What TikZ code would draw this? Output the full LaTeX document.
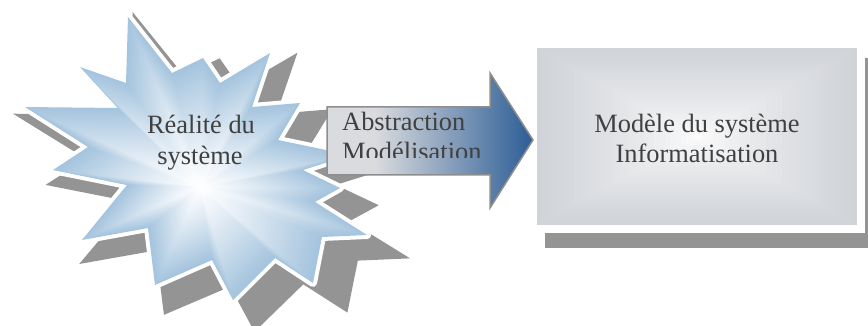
\documentclass[tikz,border=0pt]{standalone}
\usepackage{fontspec}
\setmainfont{Liberation Serif}
\definecolor{shadowgray}{HTML}{949494}
\definecolor{starblue}{HTML}{A5C4DE}
\definecolor{boxedge}{HTML}{D0D3D8}
\definecolor{arrowlight}{HTML}{DADBDE}
\definecolor{arrowdark}{HTML}{2B5C95}
\definecolor{arrowline}{HTML}{8E8E8E}
\definecolor{labelgray}{HTML}{404040}
% outline of the burst (explosion) shape
\def\burstpath{(128,17) -- (172,73) -- (203,58) -- (220,83) -- (270,53) -- (252,107)
  -- (300,103) -- (278,140) -- (350,155) -- (303,170) -- (340,188) -- (315,202)
  -- (367,235) -- (322,237) -- (313,283) -- (275,258) -- (233,300) -- (212,260)
  -- (155,285) -- (148,228) -- (82,240) -- (127,185) -- (53,170) -- (88,147)
  -- (25,107) -- (118,108) -- (80,67) -- (126,83) -- cycle}
\tikzset{
  label text/.style={text=labelgray, font=\fontsize{26.4}{30}\selectfont, inner sep=0pt},
}
\begin{document}
\begin{tikzpicture}[x=1pt,y=-1pt]
\useasboundingbox (0,0) rectangle (868,326);

% --- burst: enlarged shadow, white rim, path gradient ---
\begin{scope}[shift={(-16,-7.2)}, xscale=1.161, yscale=1.13]
  \fill[shadowgray] \burstpath;
\end{scope}
\draw[white, fill=white, line width=8pt, line join=round] \burstpath;
\foreach \i in {0,...,49}{
  \pgfmathsetmacro\s{1-\i/50}
  \pgfmathsetmacro\p{100*(\s)^1.15}
  \fill[starblue!\p!white, shift={(200,187)}, scale=\s, shift={(-200,-187)}] \burstpath;
}
\node[label text, anchor=base] (real1) at (201,134) {Réalité du};
\node[label text, anchor=base] (real2) at (200,165) {système};

% --- model box: shadow, white rim, rectangular gradient ---
\fill[shadowgray] (545,58) rectangle (868,248);
\fill[white] (537,48) rectangle (865,233);
\foreach \i in {0,...,29}{
  \pgfmathsetmacro\f{\i/30}
  \pgfmathsetmacro\p{100*(1-\f)^0.7}
  \fill[boxedge!\p!white] ({537+160*\f},{48+88.5*\f}) rectangle ({857-160*\f},{225-88.5*\f});
}
\node[label text, anchor=base] (model1) at (697,133) {Modèle du système};
\node[label text, anchor=base] (model2) at (697,163) {Informatisation};

% --- block arrow ---
\def\arrowpath{(327,107) -- (490,107) -- (490,73) -- (533,140) -- (490,208) -- (490,175) -- (327,175) -- cycle}
\begin{scope}
  \clip \arrowpath;
  \fill[arrowlight] (320,60) rectangle (540,220);
  \shade[left color=arrowlight, right color=arrowdark] (375,60) rectangle (534,220);
\end{scope}
\draw[arrowline, line width=1.5pt, line join=miter] \arrowpath;
\node[label text, anchor=base west] (abs) at (342,131) {Abstraction};
\begin{scope}
  \clip (327,100) rectangle (490,158);
  \node[label text, anchor=base west] (mod) at (342,161) {Modélisation};
\end{scope}
\end{tikzpicture}
\end{document}
